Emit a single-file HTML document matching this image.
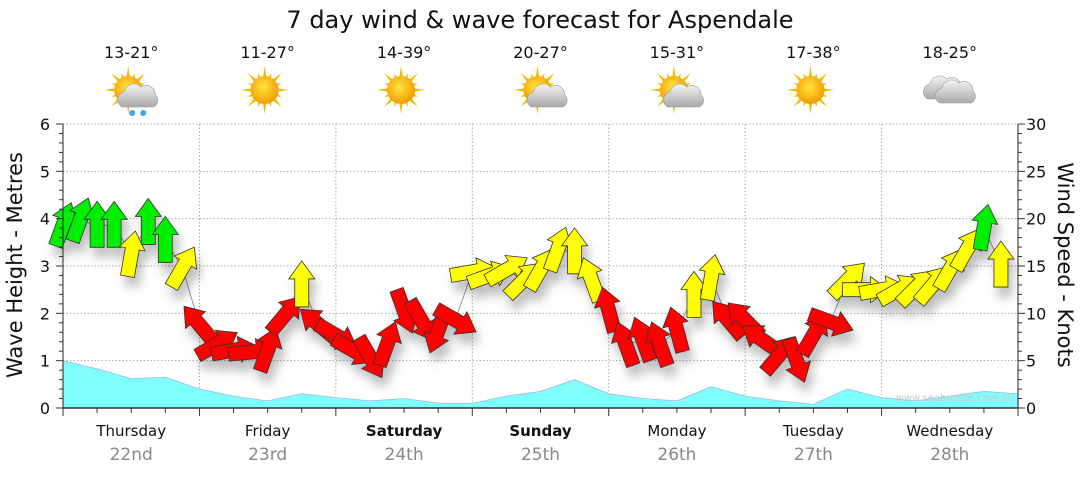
<!DOCTYPE html>
<html><head><meta charset="utf-8"><style>
body{margin:0;background:#fff;width:1080px;height:475px;overflow:hidden;font-family:"Liberation Sans",sans-serif}
svg text{font-family:"DejaVu Sans","Liberation Sans",sans-serif}
</style></head><body>
<svg id="chart" width="1080" height="475" viewBox="0 0 1080 475">
<defs>
<filter id="sh" x="-50%" y="-50%" width="200%" height="200%"><feDropShadow dx="4" dy="10" stdDeviation="5" flood-color="#000" flood-opacity="0.25"/></filter>
<radialGradient id="sun" cx="45%" cy="40%" r="60%"><stop offset="0" stop-color="#ffe640"/><stop offset="1" stop-color="#f39a00"/></radialGradient>
<linearGradient id="cl" x1="0" y1="0" x2="0" y2="1"><stop offset="0" stop-color="#f4f4f4"/><stop offset="1" stop-color="#a9a9a9"/></linearGradient>
</defs>
<text x="540" y="28" text-anchor="middle" font-size="24" fill="#111">7 day wind &amp; wave forecast for Aspendale</text>
<g id="grid"></g>
<g id="waves"></g>
<g id="windline"></g>
<g id="arrows" filter="url(#sh)"></g>
<g id="axes"></g>
<g id="icons"></g>
<text x="955" y="401" text-anchor="middle" font-size="10" fill="#c8c8c8">www.seabreeze.com.au</text>
<text transform="translate(22,265) rotate(-90)" text-anchor="middle" font-size="21" fill="#111">Wave Height - Metres</text>
<text transform="translate(1058,265) rotate(90)" text-anchor="middle" font-size="21" fill="#111">Wind Speed - Knots</text>
</svg>
<script>
const days=["Thursday","Friday","Saturday","Sunday","Monday","Tuesday","Wednesday"];
const dates=["22nd","23rd","24th","25th","26th","27th","28th"];
const temps=["13-21°","11-27°","14-39°","20-27°","15-31°","17-38°","18-25°"];
const icons=["suncloudrain","sun","sun","suncloud","suncloud","sun","cloud"];
const waveTicks=[0,1,2,3,4,5,6];
const windTicks=[0,5,10,15,20,25,30];
// wave height (m) every 6 hours from Thursday 00:00
const waveHeights=[1.0,0.83,0.62,0.65,0.4,0.25,0.15,0.3,0.22,0.15,0.2,0.1,0.1,0.25,0.35,0.6,0.3,0.2,0.15,0.45,0.25,0.15,0.08,0.4,0.22,0.15,0.25,0.35,0.3];
// wind every 3 hours from Thursday 00:00
const windSpeed=[19.3,19.8,19.3,19.3,16.2,19.6,17.7,14.8, 8.8,6.7,6.1,5.9,6.1,9.8,13.0,8.8, 7.7,6.1,5.4,6.7,10.3,9.3,8.2,9.3, 14.4,14.0,14.6,13.5,14.6,16.7,16.5,13.5, 10.3,6.7,7.2,6.7,8.2,11.9,13.7,9.3, 9.3,7.2,5.6,5.1,7.7,9.1,13.5,12.5, 12.5,12.5,12.7,13.0,14.6,16.7,19.0,15.1];
const windDir=[20,20,0,0,10,0,0,30, -40,60,80,85,20,40,0,-50, 120,120,150,20,160,150,200,120, 80,70,60,45,30,20,0,-20, -15,-20,-20,-20,-15,0,10,-40, -45,-55,40,160,30,110,45,90, 80,60,45,40,30,30,10,0];

const X0=63,X1=1018,Y0=408,Y1=124,HOURS=168;
const xH=h=>X0+(X1-X0)*h/HOURS;
const yM=m=>Y0-(Y0-Y1)*m/6;
const yK=k=>Y0-(Y0-Y1)*k/30;
const NS="http://www.w3.org/2000/svg";
function mk(tag,attrs,parent,txt){const e=document.createElementNS(NS,tag);for(const k in attrs)e.setAttribute(k,attrs[k]);if(txt!==undefined)e.textContent=txt;parent.appendChild(e);return e;}
const grid=document.getElementById('grid'),axes=document.getElementById('axes');
for(const m of waveTicks){ if(m===0) continue;
 const l=mk('line',{x1:X0,x2:X1,y1:yM(m),y2:yM(m),stroke:'#aaa','stroke-dasharray':'1.5,2','stroke-width':1},grid);
 
 }
for(let d=1;d<7;d++){const x=xH(d*24);
 const l=mk('line',{x1:x,x2:x,y1:Y1,y2:Y0,stroke:'#aaa','stroke-dasharray':'1.5,2','stroke-width':1},grid);
 
 }
let pts=waveHeights.map((v,i)=>xH(i*6)+','+yM(v));
const wa=mk('polygon',{points:X0+','+Y0+' '+pts.join(' ')+' '+X1+','+Y0,fill:'#80ffff',stroke:'#9bd','stroke-width':0.8},document.getElementById('waves'));


const wl=mk('polyline',{points:windSpeed.map((v,i)=>xH(i*3)+','+yK(v)).join(' '),fill:'none',stroke:'#999','stroke-width':1},document.getElementById('windline'));


const ag=document.getElementById('arrows');
windSpeed.forEach((k,i)=>{
 const col=k>=17.5?'#00ee00':(k>=11.5?'#ffff00':'#ff0000');
 const p=mk('polygon',{points:'0,-24 13,-6 7,-6 7,22 -7,22 -7,-6 -13,-6',fill:col,stroke:'#333','stroke-width':0.8,
  transform:`translate(${xH(i*3)},${yK(k)}) rotate(${windDir[i]})`},ag);
 
 
});
mk('line',{x1:X0,x2:X0,y1:Y1,y2:Y0,stroke:'#222'},axes);
mk('line',{x1:X1,x2:X1,y1:Y1,y2:Y0,stroke:'#222'},axes);
mk('line',{x1:X0,x2:X1,y1:Y0,y2:Y0,stroke:'#234','stroke-width':1.5},axes);
for(let m=0;m<=30;m++){const y=yM(m*0.2);mk('line',{x1:X0-(m%5?4:7),x2:X0,y1:y,y2:y,stroke:'#333'},axes);}
for(let k=0;k<=30;k++){const y=yK(k);mk('line',{x1:X1,x2:X1+(k%5?4:7),y1:y,y2:y,stroke:'#333'},axes);}
waveTicks.forEach(m=>{const t=mk('text',{x:50,y:yM(m)+6,'text-anchor':'end','font-size':16,fill:'#111'},axes,String(m));
 
 });
windTicks.forEach(k=>{const t=mk('text',{x:1026,y:yK(k)+6,'font-size':16,fill:'#111'},axes,String(k));
 
 });
for(let h=0;h<=168;h+=6){const x=xH(h);mk('line',{x1:x,x2:x,y1:Y0,y2:Y0+(h%24?5:8),stroke:'#333'},axes);}
const ig=document.getElementById('icons');
function sun(g,cx,cy){for(let a=0;a<360;a+=22.5){const r=a%45?18:24;const rad=a*Math.PI/180;
  mk('polygon',{points:`${cx+Math.cos(rad)*r},${cy+Math.sin(rad)*r} ${cx+Math.cos(rad+0.15)*12},${cy+Math.sin(rad+0.15)*12} ${cx+Math.cos(rad-0.15)*12},${cy+Math.sin(rad-0.15)*12}`,fill:'#f5b800'},g);}
 mk('circle',{cx,cy,r:14,fill:'url(#sun)'},g);}
function cloud(g,cx,cy,s){mk('path',{d:`M${cx-16*s},${cy+9*s} a8,8 0 0 1 2,-15 a10,10 0 0 1 17,-5 a9,9 0 0 1 14,8 a7,7 0 0 1 -2,12 z`,fill:'url(#cl)',stroke:'#999','stroke-width':0.6},g);}
days.forEach((d,i)=>{const cx=xH(i*24+12);
 const a=mk('text',{x:cx,y:Y0+28,'text-anchor':'middle','font-size':15,fill:'#111','font-weight':(i===2||i===3)?'bold':'normal'},axes,d);
 
 
 const b=mk('text',{x:cx,y:Y0+52,'text-anchor':'middle','font-size':17,fill:'#888'},axes,dates[i]);
 
 
 const t=mk('text',{x:cx,y:58,'text-anchor':'middle','font-size':16,fill:'#111'},ig,temps[i]);
 
 
 const g=mk('g',{},ig);
 
 
 const ic=icons[i],sx=cx-3,sy=90;
 if(ic==='cloud'){cloud(g,cx-6,sy,1);cloud(g,cx+6,sy+4,1);}
 else{sun(g,sx,sy);
  if(ic!=='sun'){cloud(g,sx+10,sy+8,1);}
  if(ic==='suncloudrain'){mk('circle',{cx:sx+4,cy:sy+23,r:3,fill:'#3aa8e8'},g);mk('circle',{cx:sx+15,cy:sy+23,r:3,fill:'#3aa8e8'},g);}}
});
</script>
</body></html>
